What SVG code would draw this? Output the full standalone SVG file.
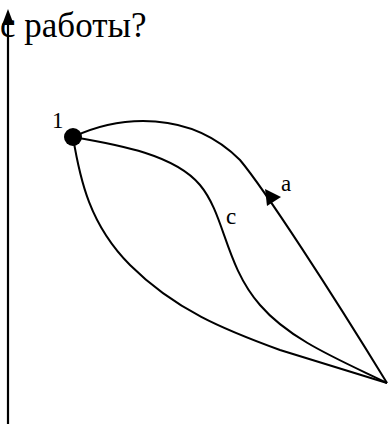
<svg xmlns="http://www.w3.org/2000/svg" width="389" height="424" viewBox="0 0 389 424">
<style>
.t{font-family:"Liberation Serif","Times New Roman",serif;fill:#000}
.c{fill:none;stroke:#000;stroke-width:2}
</style>
<rect width="389" height="424" fill="#fff"/>
<text class="t" x="0" y="37" font-size="35">с работы?</text>
<g id="axis">
<line x1="8" y1="20" x2="8" y2="424" stroke="#000" stroke-width="2.2"/>
<polygon points="8,9 2,25 14,25" fill="#000"/>
</g>
<g id="connectors">
<path id="a" class="c" d="M73,137 C120,115 190,110 240,160 C265,190 330,290 387,383"/>
<polygon points="265,189 267,206 281,197" fill="#000"/>
<path id="c" class="c" d="M73,137 C120,145 175,155 200,185 C225,215 225,265 260,305 C290,340 340,360 387,383"/>
<path id="b" class="c" d="M73,137 C80,180 90,225 130,265 C175,310 225,330 280,350 L387,383"/>
</g>
<g id="node1">
<circle cx="73" cy="137" r="9" fill="#000"/>
<text class="t" x="52" y="128" font-size="23">1</text>
</g>
<g id="labels">
<text class="t" x="281" y="191" font-size="23">a</text>
<text class="t" x="226" y="224" font-size="23">c</text>
</g>
</svg>
